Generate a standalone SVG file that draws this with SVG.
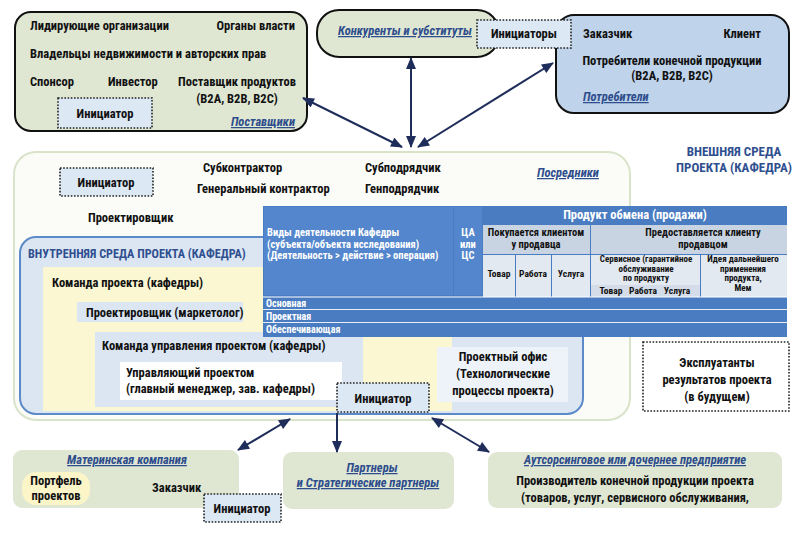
<svg xmlns="http://www.w3.org/2000/svg" width="800" height="533" viewBox="0 0 800 533">
<defs>
<style>
text{font-family:"Liberation Sans Narrow","Roboto Condensed","DejaVu Sans Condensed","Liberation Sans",sans-serif;font-weight:bold;font-size:12.5px;fill:#111}
.lnk{font-style:italic;fill:#2e4d8c;text-decoration:underline}
.hd{fill:#2f4f8f;font-size:13px}
.w{fill:#fff}
.t{font-size:10.5px}
.ts{font-size:9.5px}
.tx{font-size:9px}
.row{font-size:10px}
.c{text-anchor:middle}
.e{text-anchor:end}
.grn{fill:#dfe7d3}
.blk{stroke:#111;stroke-width:2}
.dot{fill:#dde8f5;stroke:#222;stroke-width:1.6;stroke-dasharray:1.6 1.6}
.arr{stroke:#1f2d5a;stroke-width:2;fill:none}
</style>
<marker id="ah" viewBox="0 0 12 10" refX="11" refY="5" markerWidth="13" markerHeight="10" orient="auto-start-reverse" markerUnits="userSpaceOnUse">
<path d="M0,0 L12,5 L0,10 z" fill="#1f2d5a"/>
</marker>
</defs>
<rect width="800" height="533" fill="#fff"/>

<g id="suppliers">
<rect x="15" y="12" width="292" height="119" rx="16" class="grn blk"/>
<text x="30" y="30">Лидирующие организации</text>
<text x="295" y="30" class="e">Органы власти</text>
<text x="30" y="58">Владельцы недвижимости и авторских прав</text>
<text x="30" y="86">Спонсор</text>
<text x="108" y="86">Инвестор</text>
<text x="237" y="86" class="c">Поставщик продуктов</text>
<text x="237" y="103" class="c">(B2A, B2B, B2C)</text>
<rect x="58" y="98" width="94" height="30" class="dot"/>
<text x="105" y="118" class="c">Инициатор</text>
<text x="295" y="126" class="lnk e">Поставщики</text>
</g>

<g id="competitors">
<rect x="317" y="10" width="182" height="47" rx="22" class="grn blk"/>
<text x="338" y="35" class="lnk">Конкуренты и субституты</text>
</g>

<g id="consumers">
<rect x="556" y="15" width="233" height="98" rx="18" fill="#bfd3ea" class="blk"/>
<text x="583" y="38">Заказчик</text>
<text x="761" y="38" class="e">Клиент</text>
<text x="672" y="65" class="c">Потребители конечной продукции</text>
<text x="672" y="80" class="c">(B2A, B2B, B2C)</text>
<text x="583" y="101" class="lnk">Потребители</text>
</g>

<g id="initiators-top">
<rect x="477" y="20" width="94" height="28" class="dot"/>
<text x="524" y="38" class="c">Инициаторы</text>
</g>

<g id="external-env">
<rect x="14" y="152" width="616" height="268" rx="22" fill="#fbfcf8" stroke="#d9e3c9" stroke-width="2"/>
<text x="734" y="156" class="hd c">ВНЕШНЯЯ СРЕДА</text>
<text x="734" y="172" class="hd c">ПРОЕКТА (КАФЕДРА)</text>
<rect x="60" y="168" width="93" height="28" class="dot"/>
<text x="106" y="187" class="c">Инициатор</text>
<text x="203" y="172">Субконтрактор</text>
<text x="197" y="193">Генеральный контрактор</text>
<text x="365" y="172">Субподрядчик</text>
<text x="365" y="193">Генподрядчик</text>
<text x="537" y="177" class="lnk">Посредники</text>
<text x="88" y="222">Проектировщик</text>
</g>

<g id="internal-env">
<rect x="20" y="237" width="563" height="177" rx="16" fill="#dce6f3" stroke="#5b8ac8" stroke-width="2"/>
<text x="28" y="258" class="hd" style="font-size:12.2px">ВНУТРЕННЯЯ СРЕДА ПРОЕКТА (КАФЕДРА)</text>
</g>

<g id="project-team">
<rect x="43" y="267" width="409" height="144" fill="#fbf7d2"/>
<text x="52" y="287">Команда проекта (кафедры)</text>
</g>

<g id="designer-marketer">
<rect x="77" y="302" width="166" height="20" fill="#dce6f3"/>
<text x="86" y="317">Проектировщик (маркетолог)</text>
</g>

<g id="management-team">
<rect x="95" y="332" width="268" height="75" fill="#dce6f3"/>
<text x="102" y="350">Команда управления проектом (кафедры)</text>
</g>

<g id="project-manager">
<rect x="120" y="362" width="222" height="38" fill="#fff"/>
<text x="126" y="377">Управляющий проектом</text>
<text x="126" y="393">(главный менеджер, зав. кафедры)</text>
</g>

<g id="project-office">
<rect x="437" y="347" width="131" height="55" fill="#eef3f9"/>
<text x="503" y="361" class="c">Проектный офис</text>
<text x="503" y="378" class="c">(Технологические</text>
<text x="503" y="395" class="c">процессы проекта)</text>
</g>

<g id="initiator-inner">
<rect x="337" y="383" width="92" height="29" class="dot"/>
<text x="383" y="403" class="c">Инициатор</text>
</g>

<g id="activity-table">
<rect x="263" y="206" width="524" height="131" fill="#4a7cc2"/>
<rect x="264" y="207" width="189" height="88" fill="#5386cc"/>
<rect x="454" y="207" width="28" height="88" fill="#5386cc"/>
<rect x="483" y="207" width="304" height="17" fill="#4a7cc2"/>
<rect x="483" y="225" width="107" height="29" fill="#c9d4e2"/>
<rect x="591" y="225" width="196" height="29" fill="#c9d4e2"/>
<rect x="483" y="255" width="32" height="42" fill="#e3e9f1"/>
<rect x="516" y="255" width="35" height="42" fill="#e3e9f1"/>
<rect x="552" y="255" width="38" height="42" fill="#e3e9f1"/>
<rect x="591" y="255" width="109" height="42" fill="#e3e9f1"/>
<rect x="591" y="285" width="109" height="12" fill="#d3dce8"/>
<rect x="701" y="255" width="86" height="42" fill="#e3e9f1"/>
<line x1="263" y1="297" x2="787" y2="297" stroke="#fff" stroke-width="1"/>
<line x1="263" y1="309.5" x2="787" y2="309.5" stroke="#e8eef6" stroke-width="1"/>
<line x1="263" y1="322.5" x2="787" y2="322.5" stroke="#e8eef6" stroke-width="1"/>
<text x="267" y="236" class="w t">Виды деятельности Кафедры</text>
<text x="267" y="247.5" class="w t">(субъекта/объекта исследования)</text>
<text x="267" y="259" class="w t">(Деятельность &gt; действие &gt;  операция)</text>
<text x="468" y="236" class="w t c">ЦА</text>
<text x="468" y="247.5" class="w t c">или</text>
<text x="468" y="259" class="w t c">ЦС</text>
<text x="635" y="219" class="w c">Продукт обмена (продажи)</text>
<text x="536" y="236" class="t c">Покупается клиентом</text>
<text x="536" y="248" class="t c">у продавца</text>
<text x="703" y="236" class="t c">Предоставляется клиенту</text>
<text x="703" y="248" class="t c">продавцом</text>
<text x="499" y="277" class="ts c">Товар</text>
<text x="533" y="277" class="ts c">Работа</text>
<text x="571" y="277" class="ts c">Услуга</text>
<text x="646" y="262" class="tx c">Сервисное (гарантийное</text>
<text x="646" y="271.5" class="tx c">обслуживание</text>
<text x="646" y="281" class="tx c">по продукту</text>
<text x="611" y="294" class="ts c">Товар</text>
<text x="643" y="294" class="ts c">Работа</text>
<text x="677" y="294" class="ts c">Услуга</text>
<text x="743" y="262" class="tx c">Идея дальнейшего</text>
<text x="743" y="271.5" class="tx c">применения</text>
<text x="743" y="281" class="tx c">продукта,</text>
<text x="743" y="291" class="tx c">Мем</text>
<text x="266" y="306.5" class="w row">Основная</text>
<text x="266" y="319.5" class="w row">Проектная</text>
<text x="266" y="332.5" class="w row">Обеспечивающая</text>
</g>

<g id="operators">
<rect x="643" y="342" width="146" height="69" fill="#fff" stroke="#222" stroke-width="1.6" stroke-dasharray="1.6 1.6"/>
<text x="717" y="367" class="c">Эксплуатанты</text>
<text x="717" y="384" class="c">результатов проекта</text>
<text x="717" y="401" class="c">(в будущем)</text>
</g>

<g id="parent-company">
<rect x="13" y="450" width="226" height="58" rx="9" class="grn"/>
<text x="127" y="464" class="lnk c">Материнская компания</text>
<rect x="22" y="472" width="68" height="33" rx="14" fill="#fbf5c8"/>
<text x="56" y="485" class="c">Портфель</text>
<text x="56" y="500" class="c">проектов</text>
<text x="152" y="492">Заказчик</text>
</g>

<g id="initiator-bottom">
<rect x="204" y="494" width="77" height="28" class="dot"/>
<text x="242" y="513" class="c">Инициатор</text>
</g>

<g id="partners">
<rect x="283" y="452" width="171" height="57" rx="9" class="grn"/>
<text x="372" y="472" class="lnk c">Партнеры </text>
<text x="368" y="487" class="lnk c">и Стратегические партнеры</text>
</g>

<g id="outsourcing">
<rect x="488" y="452" width="294" height="56" rx="9" class="grn"/>
<text x="635" y="464" class="lnk c">Аутсорсинговое или дочернее предприятие</text>
<text x="635" y="485" class="c">Производитель конечной продукции проекта</text>
<text x="635" y="502" class="c">(товаров, услуг, сервисного обслуживания,</text>
</g>

<g id="connectors">
<line x1="402" y1="147" x2="303" y2="98" class="arr" marker-start="url(#ah)" marker-end="url(#ah)"/>
<line x1="411" y1="147" x2="411" y2="58" class="arr" marker-start="url(#ah)" marker-end="url(#ah)"/>
<line x1="418" y1="147" x2="553" y2="63" class="arr" marker-start="url(#ah)" marker-end="url(#ah)"/>
<line x1="290" y1="419" x2="238" y2="450" class="arr" marker-start="url(#ah)" marker-end="url(#ah)"/>
<line x1="337" y1="413" x2="337" y2="452" class="arr" marker-end="url(#ah)"/>
<line x1="432" y1="418" x2="489" y2="452" class="arr" marker-start="url(#ah)" marker-end="url(#ah)"/>
</g>
</svg>
